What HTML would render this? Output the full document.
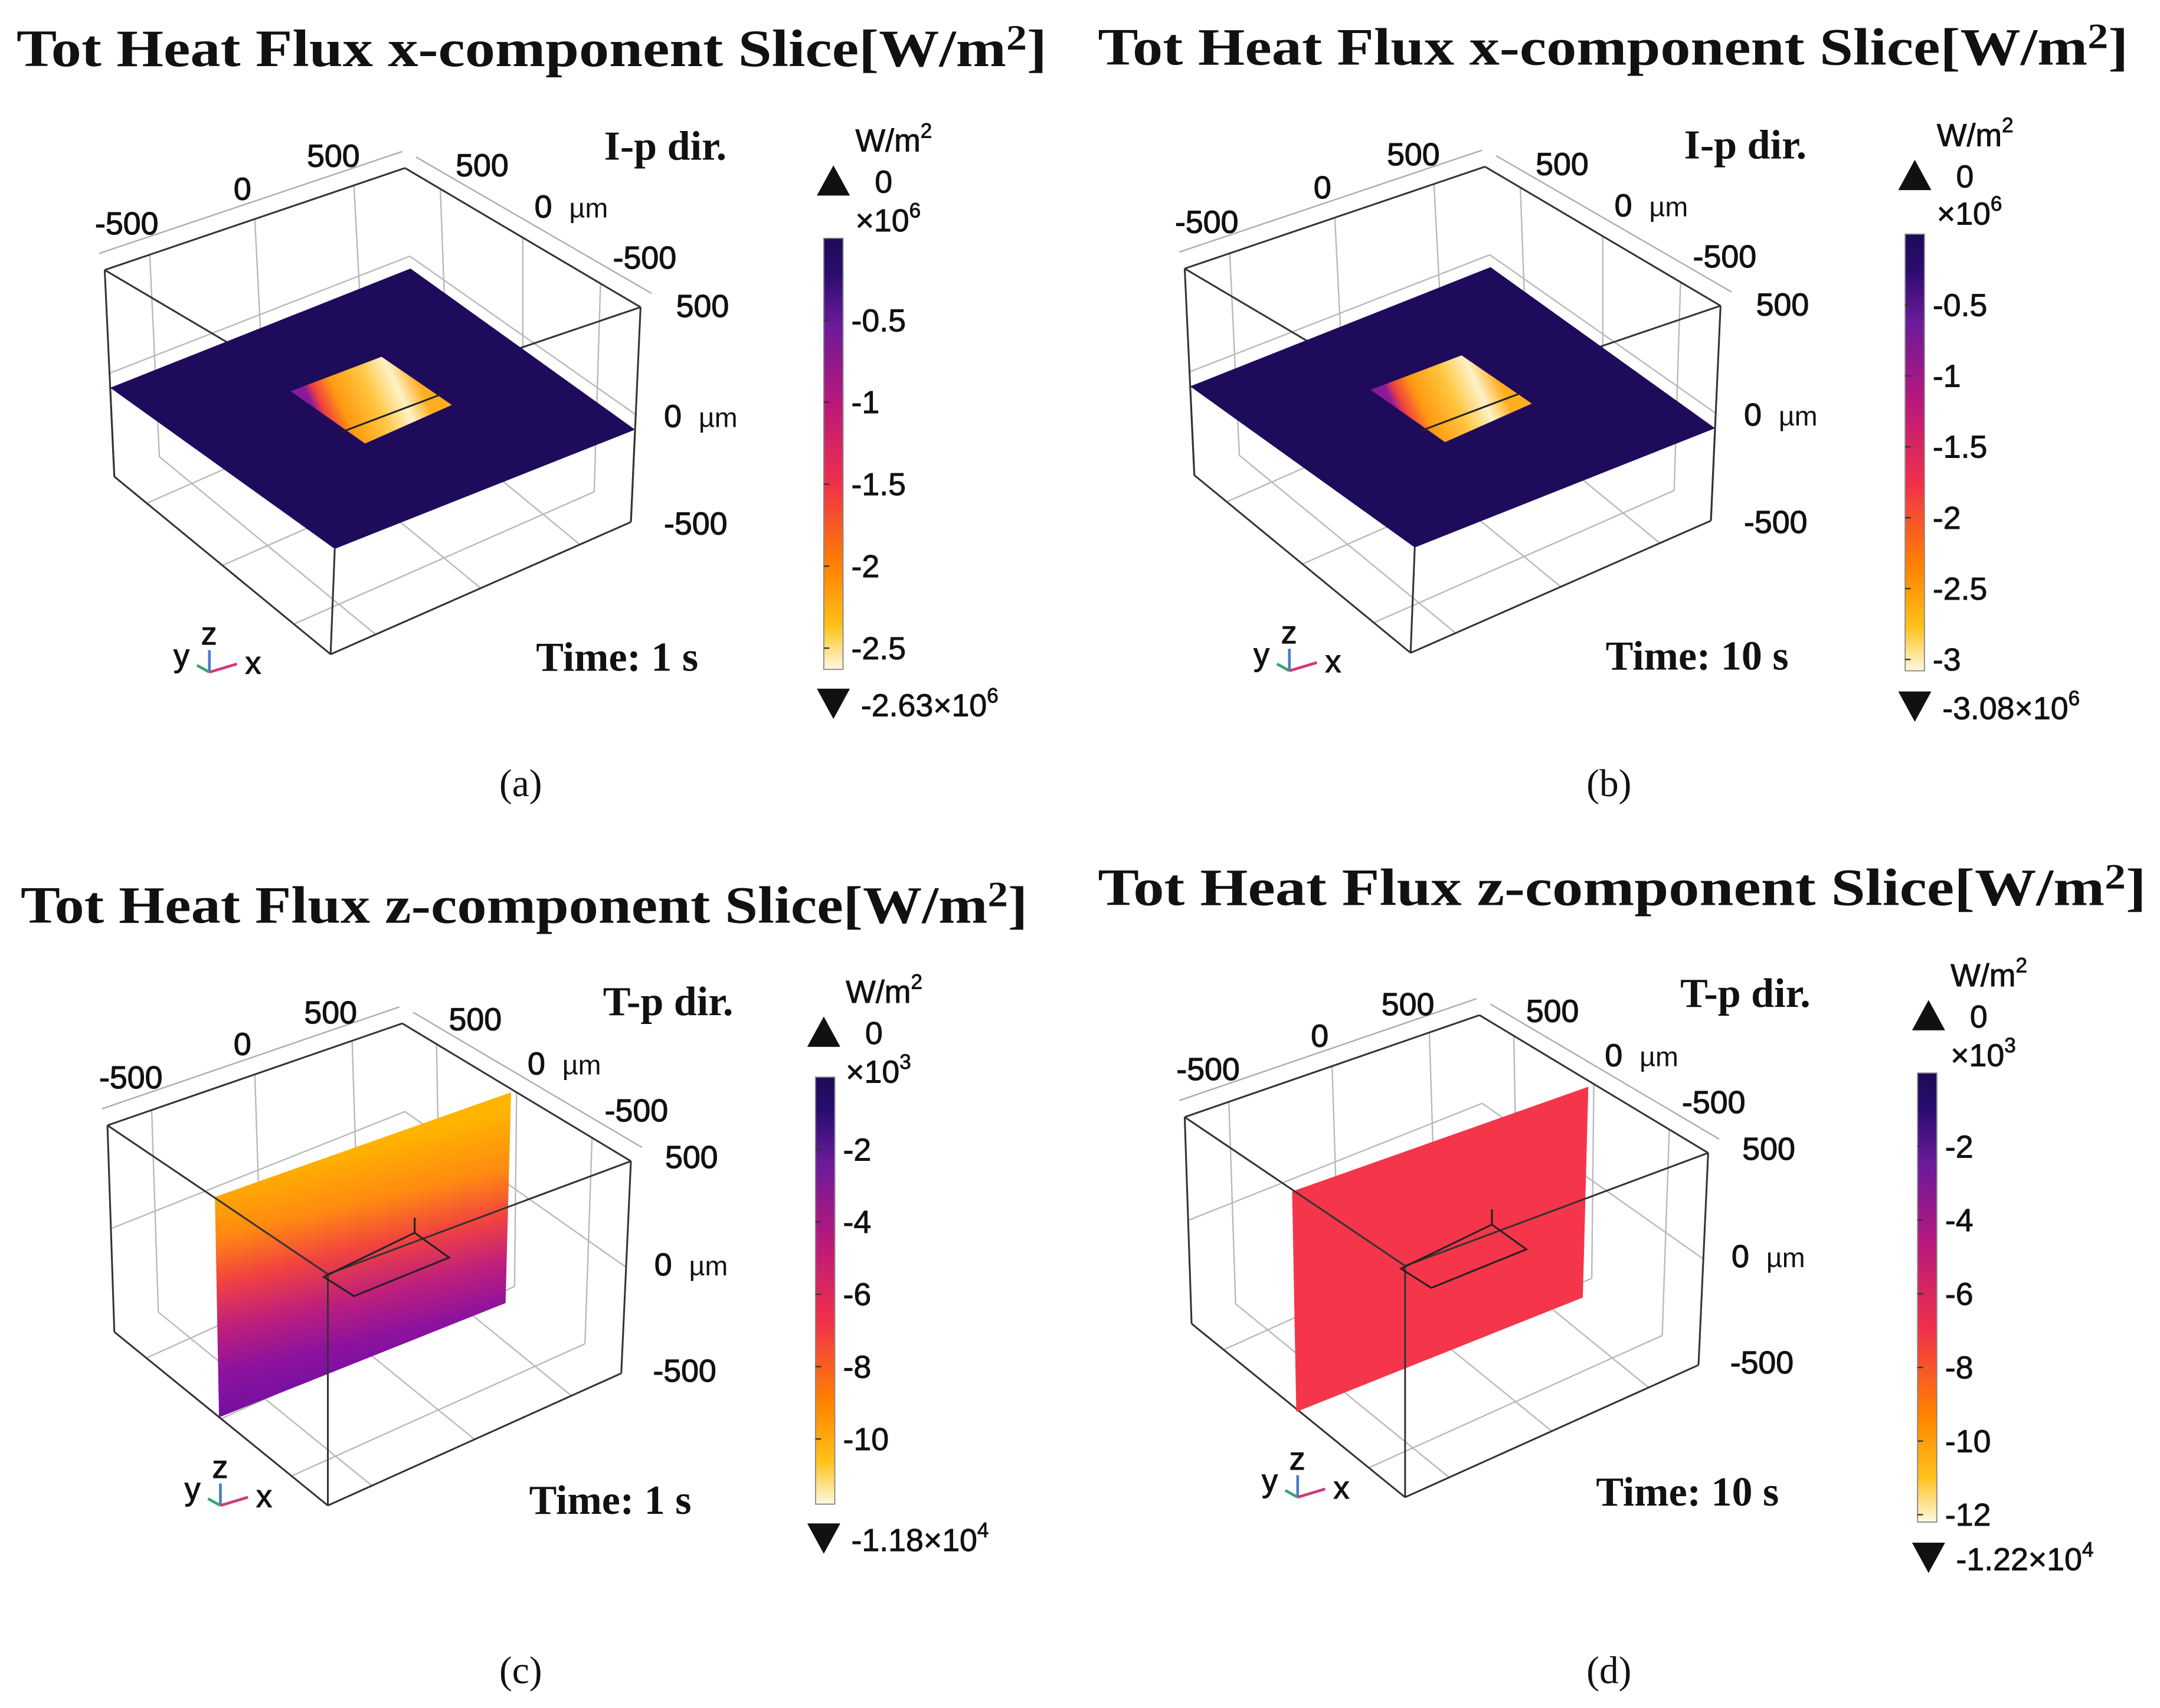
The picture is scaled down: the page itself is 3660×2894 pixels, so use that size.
<!DOCTYPE html>
<html><head><meta charset="utf-8"><style>
html,body{margin:0;padding:0;background:#fff}
svg{display:block}
.ttl{font-family:"Liberation Serif",serif;font-weight:bold;font-size:38px;fill:#111}
.ax{font-family:"Liberation Sans",sans-serif;font-size:23px;fill:#111;stroke:#111;stroke-width:0.5}
.dir{font-family:"Liberation Serif",serif;font-weight:bold;font-size:30px;fill:#111}
.cap{font-family:"Liberation Serif",serif;font-size:28px;fill:#111}
.cb{font-family:"Liberation Sans",sans-serif;font-size:23px;fill:#111;stroke:#111;stroke-width:0.4}
</style></head><body>
<svg id="fig" width="3660" height="2894" viewBox="0 0 1568 1240" preserveAspectRatio="none" xmlns="http://www.w3.org/2000/svg">
<defs>
<linearGradient id="cmap" x1="0" y1="0" x2="0" y2="1">
<stop offset="0" stop-color="#1c0b57"/><stop offset="0.08" stop-color="#2a0c6e"/><stop offset="0.2" stop-color="#6a1b9a"/><stop offset="0.38" stop-color="#b8187c"/><stop offset="0.57" stop-color="#f0304a"/><stop offset="0.76" stop-color="#ff8200"/><stop offset="0.9" stop-color="#ffc21a"/><stop offset="1" stop-color="#fff8e2"/>
</linearGradient>
<linearGradient id="hotA" gradientUnits="userSpaceOnUse" x1="232" y1="306" x2="302" y2="274">
<stop offset="0" stop-color="#8a1a9a"/><stop offset="0.08" stop-color="#ef4040"/><stop offset="0.25" stop-color="#ff9a10"/><stop offset="0.55" stop-color="#ffc640"/><stop offset="0.8" stop-color="#fff2c8"/><stop offset="1" stop-color="#ffae20"/>
</linearGradient>
<linearGradient id="hotB" gradientUnits="userSpaceOnUse" x1="1016" y1="305" x2="1086" y2="273">
<stop offset="0" stop-color="#8a1a9a"/><stop offset="0.08" stop-color="#ef4040"/><stop offset="0.25" stop-color="#ff9a10"/><stop offset="0.55" stop-color="#ffc640"/><stop offset="0.8" stop-color="#fff2c8"/><stop offset="1" stop-color="#ffae20"/>
</linearGradient>
<linearGradient id="sliceC" gradientUnits="userSpaceOnUse" x1="263" y1="831" x2="300" y2="990">
<stop offset="0" stop-color="#ffb400"/><stop offset="0.25" stop-color="#ff8a10"/><stop offset="0.45" stop-color="#f2433f"/><stop offset="0.65" stop-color="#c0207a"/><stop offset="0.85" stop-color="#8c129e"/><stop offset="1" stop-color="#7a10a0"/>
</linearGradient>
</defs>

<text class="ttl" x="12" y="48" textLength="748" lengthAdjust="spacingAndGlyphs">Tot Heat Flux x-component Slice[W/m<tspan font-size="26" dy="-12">2</tspan><tspan dy="12">]</tspan></text>
<text class="ttl" x="797" y="47" textLength="748" lengthAdjust="spacingAndGlyphs">Tot Heat Flux x-component Slice[W/m<tspan font-size="26" dy="-12">2</tspan><tspan dy="12">]</tspan></text>
<text class="ttl" x="15" y="670" textLength="731" lengthAdjust="spacingAndGlyphs">Tot Heat Flux z-component Slice[W/m<tspan font-size="26" dy="-12">2</tspan><tspan dy="12">]</tspan></text>
<text class="ttl" x="797" y="657" textLength="761" lengthAdjust="spacingAndGlyphs">Tot Heat Flux z-component Slice[W/m<tspan font-size="26" dy="-12">2</tspan><tspan dy="12">]</tspan></text>

<text class="cap" x="378" y="578" text-anchor="middle">(a)</text>
<text class="cap" x="1168" y="578" text-anchor="middle">(b)</text>
<text class="cap" x="378" y="1222" text-anchor="middle">(c)</text>
<text class="cap" x="1168" y="1222" text-anchor="middle">(d)</text>

<g id="panels"></g>
</svg>
<script>
// colorbar data
const cbMinA = -2.63, cbTicksA = [-0.5, -1, -1.5, -2, -2.5], cbLabelsA = ["-0.5","-1","-1.5","-2","-2.5"];
const cbMinB = -3.08, cbTicksB = [-0.5, -1, -1.5, -2, -2.5, -3], cbLabelsB = ["-0.5","-1","-1.5","-2","-2.5","-3"];
const cbMinC = -11.8, cbTicksC = [-2, -4, -6, -8, -10], cbLabelsC = ["-2","-4","-6","-8","-10"];
const cbMinD = -12.2, cbTicksD = [-2, -4, -6, -8, -10, -12], cbLabelsD = ["-2","-4","-6","-8","-10","-12"];
const axisTicks = ["-500", "0", "500"];

const NS = "http://www.w3.org/2000/svg";
const root = document.getElementById('panels');
function mk(tag, attrs, parent) {
  const e = document.createElementNS(NS, tag);
  for (const k in attrs) e.setAttribute(k, attrs[k]);
  (parent || root).appendChild(e);
  return e;
}
function bil(q, u, v) {
  return [q[0][0]*(1-u)*(1-v)+q[1][0]*u*(1-v)+q[2][0]*u*v+q[3][0]*(1-u)*v,
          q[0][1]*(1-u)*(1-v)+q[1][1]*u*(1-v)+q[2][1]*u*v+q[3][1]*(1-u)*v];
}
function shift(pts, dx, dy) { return pts.map(p => [p[0]+dx, p[1]+dy]); }

function panel(g, T, B, name) {
  const P = (u, v, w) => { const a = bil(T, u, v), b = bil(B, u, v); return [a[0]*(1-w)+b[0]*w, a[1]*(1-w)+b[1]*w]; };
  const line = (p, q, col, sw, nm) => {
    const l = mk('line', {x1:p[0], y1:p[1], x2:q[0], y2:q[1], stroke:col, 'stroke-width':sw}, g);
    
    
  };
  const gl = [0.15, 0.5, 0.83];
  const gc = '#b8b8b8';
  gl.forEach(t => {
    line(P(0,t,0), P(0,t,1), gc, 1, 'grid-line');
    line(P(t,1,0), P(t,1,1), gc, 1, 'grid-line');
    line(P(t,0,1), P(t,1,1), gc, 1, 'grid-line');
    line(P(0,t,1), P(1,t,1), gc, 1, 'grid-line');
  });
  line(P(0,0,0.5), P(0,1,0.5), gc, 1, 'grid-line');
  line(P(0,1,0.5), P(1,1,0.5), gc, 1, 'grid-line');
  const o1 = [T[0][0]-4, T[0][1]-12], o2 = [T[3][0]-2, T[3][1]-12], o3 = [T[2][0]+8, T[2][1]-10];
  line(o1, o2, '#aaa', 1, 'tick-axis-line');
  line([T[3][0]+8,T[3][1]-8], o3, '#aaa', 1, 'tick-axis-line');
  const ec = '#333';
  line(P(0,0,0), P(0,1,0), ec, 1.3, 'box-edge');
  line(P(0,1,0), P(1,1,0), ec, 1.3, 'box-edge');
  line(P(0,0,0), P(0,0,1), ec, 1.3, 'box-edge');
  line(P(1,1,0), P(1,1,1), ec, 1.3, 'box-edge');
  line(P(0,0,1), P(1,0,1), ec, 1.3, 'box-edge');
  line(P(1,0,1), P(1,1,1), ec, 1.3, 'box-edge');
  return {P, line};
}

function colorbar(x, y0, y1, vmin, ticks, labels, name) {
  const g = mk('g', {});
  
  
  const ys = v => y0 + (v / vmin) * (y1 - y0);
  const r = mk('rect', {x:x, y:ys(0), width:14, height:ys(vmin)-ys(0), fill:'url(#cmap)', stroke:'#888', 'stroke-width':0.8}, g);
  
  
  ticks.forEach((v, i) => {
    const t = mk('line', {x1:x, x2:x+4, y1:ys(v), y2:ys(v), stroke:'#333', 'stroke-width':1}, g);
    
    
    const tx = mk('text', {x:x+20, y:ys(v)+8, class:'cb'}, g);
    
    
    tx.textContent = labels[i];
  });
  return g;
}

function static(html) { const g = mk('g', {}); g.innerHTML = html; return g; }

function triad(x, y) {
  return `<g>
  <line x1="${x}" y1="${y}" x2="${x}" y2="${y-16}" stroke="#4a7cc8" stroke-width="2"/>
  <line x1="${x}" y1="${y}" x2="${x-9}" y2="${y-5}" stroke="#3aa36a" stroke-width="2"/>
  <line x1="${x}" y1="${y}" x2="${x+20}" y2="${y-6}" stroke="#d03a7a" stroke-width="2"/>
  <text class="ax" x="${x-26}" y="${y-4}">y</text><text class="ax" x="${x-6}" y="${y-20}">z</text><text class="ax" x="${x+26}" y="${y+1}">x</text></g>`;
}

function labels(dx, dy, L, dirTxt, timeTxt) {
  let s = '<g>';
  s += `<text class="ax" x="${L[0][0]+dx}" y="${L[0][1]+dy}" text-anchor="middle">${axisTicks[0]}</text>`;
  s += `<text class="ax" x="${L[1][0]+dx}" y="${L[1][1]+dy}" text-anchor="middle">${axisTicks[1]}</text>`;
  s += `<text class="ax" x="${L[2][0]+dx}" y="${L[2][1]+dy}" text-anchor="middle">${axisTicks[2]}</text>`;
  s += `<text class="ax" x="${L[3][0]+dx}" y="${L[3][1]+dy}" text-anchor="middle">${axisTicks[2]}</text>`;
  s += `<text class="ax" x="${L[4][0]+dx}" y="${L[4][1]+dy}">0 <tspan dx="6" font-size="20" stroke-width="0">µm</tspan></text>`;
  s += `<text class="ax" x="${L[5][0]+dx}" y="${L[5][1]+dy}" text-anchor="middle">${axisTicks[0]}</text>`;
  s += `<text class="ax" x="${L[6][0]+dx}" y="${L[6][1]+dy}" text-anchor="middle">${axisTicks[2]}</text>`;
  s += `<text class="ax" x="${L[7][0]+dx}" y="${L[7][1]+dy}">0 <tspan dx="6" font-size="20" stroke-width="0">µm</tspan></text>`;
  s += `<text class="ax" x="${L[8][0]+dx}" y="${L[8][1]+dy}" text-anchor="middle">${axisTicks[0]}</text></g>`;
  s += `<text class="dir" x="${L[9][0]+dx}" y="${L[9][1]+dy}" text-anchor="middle">${dirTxt}</text>`;
  s += `<text class="dir" x="${L[10][0]+dx}" y="${L[10][1]+dy}" text-anchor="middle">${timeTxt}</text>`;
  return s;
}

function cbHeader(x, yUnit, yZero, yMul, mulTxt, yMin, minTxt, minExp) {
  return `<g>
  <text class="cb" x="${x+16}" y="${yUnit}">W/m<tspan font-size="15" dy="-10">2</tspan></text>
  <polygon points="${x-12},${yZero+2} ${x+12},${yZero+2} ${x},${yZero-20}" fill="#111"/>
  <text class="cb" x="${x+30}" y="${yZero}">0</text>
  <text class="cb" x="${x+16}" y="${yMul}">×10<tspan font-size="15" dy="-10">${mulTxt}</tspan></text>
  <polygon points="${x-12},${yMin-18} ${x+12},${yMin-18} ${x},${yMin+4}" fill="#111"/>
  <text class="cb" x="${x+20}" y="${yMin+2}">${minTxt}<tspan font-size="15" dy="-10">${minExp}</tspan></text></g>`;
}

const LA = [[92,170],[176,145],[242,121],[350,128],[388,158],[468,195],[510,230],[482,310],[505,388],[483,116],[448,487]];
const LC = [[95,790],[176,766],[240,743],[345,748],[383,780],[462,814],[502,848],[475,926],[497,1003],[485,737],[443,1099]];

const TA = [[76,196],[247,297],[465,223],[294,122]], BA = [[83,346],[240,475],[458,379],[301,250]];
[[0,0,'a','hotA','Time: 1 s'],[784,-1,'b','hotB','Time: 10 s']].forEach(cfg => {
  const [dx, dy, id, hot, tm] = cfg;
  const g = mk('g', {});
  
  
  const T = shift(TA, dx, dy), B = shift(BA, dx, dy);
  const {P, line} = panel(g, T, B, id);
  line(P(0,0,0), P(1,0,0), '#333', 1.3, 'box-edge');
  line(P(1,0,0), P(1,1,0), '#333', 1.3, 'box-edge');
  const w = 0.57;
  const pts = [P(0,0,w), P(1,0,w), P(1,1,w), P(0,1,w)];
  const pl = mk('polygon', {points: pts.map(p => p.join(',')).join(' '), fill:'#1e0b5c'}, g);
  
  
  const hs = shift([[211,284],[277,259],[328,294],[265,322]], dx, dy);
  const hp = mk('polygon', {points: hs.map(p => p.join(',')).join(' '), fill:'url(#' + hot + ')'}, g);
  
  
  line([247+dx,314+dy], [321+dx,286+dy], '#222', 1.3, 'heat-source-edge');
  line(P(1,0,w), P(1,0,1), '#333', 1.3, 'box-edge');
  line(P(0,0,w), P(0,0,1), '#333', 1.3, 'box-edge');
  line(P(1,1,w), P(1,1,1), '#333', 1.3, 'box-edge');
  const s = static(labels(dx, dy, LA, 'I-p dir.', tm) + triad(152+dx, 488+dy));
  
  
});

const TC = [[78,817],[238,925],[458,843],[292,743]], BC = [[83,967],[238,1093],[451,997],[296,871]];
[[0,0,'c','url(#sliceC)','Time: 1 s'],[782,-6,'d','#f53549','Time: 10 s']].forEach(cfg => {
  const [dx, dy, id, fill, tm] = cfg;
  const g = mk('g', {});
  
  
  const T = shift(TC, dx, dy), B = shift(BC, dx, dy);
  const {P, line} = panel(g, T, B, id);
  const sl = shift([[156,869],[371,793],[367,946],[159,1029]], dx, dy + (id==='d'?2:0));
  const sp = mk('polygon', {points: sl.map(p => p.join(',')).join(' '), fill: fill}, g);
  
  
  line(P(0,0,0), P(1,0,0), '#333', 1.3, 'box-edge');
  line(P(1,0,0), P(1,1,0), '#333', 1.3, 'box-edge');
  line(P(1,0,0), P(1,0,1), '#333', 1.3, 'box-edge');
  const r = shift([[301,895],[326,913],[257,941],[235,927],[301,895]], dx, dy);
  const rp = mk('polyline', {points: r.map(p => p.join(',')).join(' '), fill:'none', stroke:'#222', 'stroke-width':1.3}, g);
  
  
  line([301+dx,895+dy],[301+dx,884+dy], '#222', 1.3, 'heat-source-edge');
  const s = static(labels(dx, dy, LC, 'T-p dir.', tm) + triad(160+dx, 1093+dy));
  
  
});

colorbar(598, 173, 486, cbMinA, cbTicksA, cbLabelsA, 'colorbar-a');
colorbar(1383, 170, 487, cbMinB, cbTicksB, cbLabelsB, 'colorbar-b');
colorbar(592, 782, 1092, cbMinC, cbTicksC, cbLabelsC, 'colorbar-c');
colorbar(1392, 779, 1105, cbMinD, cbTicksD, cbLabelsD, 'colorbar-d');
static(cbHeader(605, 110, 140, 168, '6', 518, '-2.63×10', '6'));
static(cbHeader(1390, 106, 136, 163, '6', 520, '-3.08×10', '6'));
static(cbHeader(598, 728, 758, 786, '3', 1124, '-1.18×10', '4'));
static(cbHeader(1400, 716, 746, 774, '3', 1138, '-1.22×10', '4'));
</script>
</body></html>
